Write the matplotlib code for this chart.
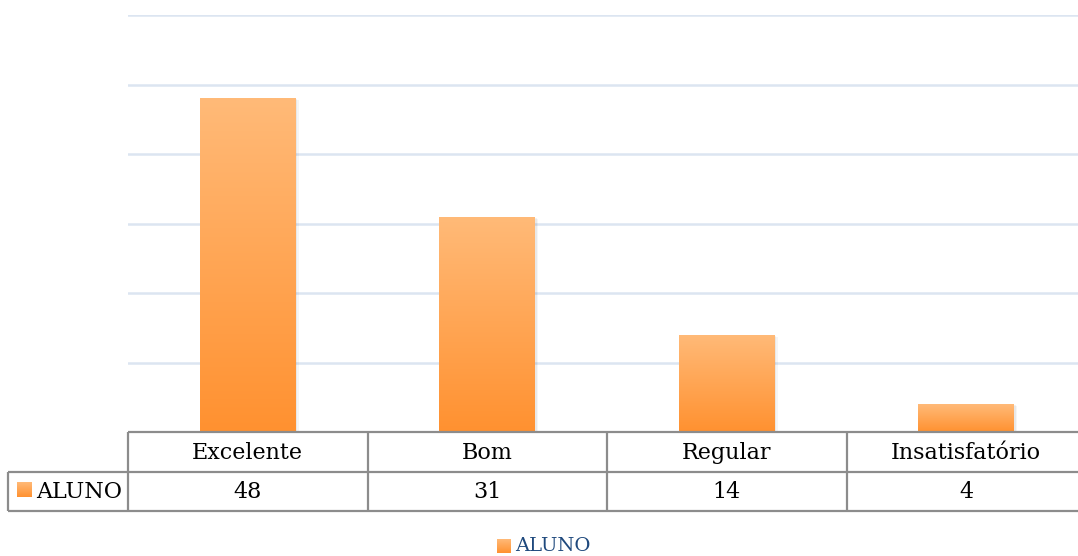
import numpy as np
import matplotlib
matplotlib.use("Agg")
import matplotlib.pyplot as plt
import matplotlib.patches as mpatches
import matplotlib.transforms as mtransforms
from matplotlib.colors import LinearSegmentedColormap

# ── Data ─────────────────────────────────────────────────────────────────────
categories = ["Excelente", "Bom", "Regular", "Insatisfatório"]
aluno = [48, 31, 14, 4]
series_name = "ALUNO"

W, H = 1078, 556
FONT = "DejaVu Serif"
GRID_C = "#DCE5F1"
BORDER_C = "#8C8C8C"
TOP_C = "#FFBA78"
BOT_C = "#FF9130"
LEGEND_C = "#1F497D"

grad = LinearSegmentedColormap.from_list("bar", [BOT_C, TOP_C])


def fy(y_px):
    """top-origin pixel row -> figure fraction"""
    return 1 - y_px / H


def fx(x_px):
    return x_px / W


fig = plt.figure(figsize=(W / 100, H / 100), dpi=100)
ax = fig.add_axes([fx(128), fy(432), fx(1086) - fx(128), fy(15) - fy(432)])
ax.set_xlim(-0.5, len(categories) - 0.5)
ax.set_ylim(0, 60)
for s in ax.spines.values():
    s.set_visible(False)
ax.set_xticks([])
ax.set_yticks(np.arange(10, 61, 10))
ax.tick_params(axis="y", length=0, labelleft=False)
ax.grid(axis="y", color=GRID_C, lw=1.8)
ax.set_axisbelow(True)

# ── Bars with vertical gradient ──────────────────────────────────────────────
xs = np.arange(len(categories))
bars = ax.bar(xs, aluno, width=0.4, color="none", zorder=3)
gimg = np.linspace(0, 1, 256).reshape(-1, 1)
for b in bars:
    x0, w, h = b.get_x(), b.get_width(), b.get_height()
    # soft shadow
    for k, a in [(1.0, 0.04), (0.5, 0.05)]:
        ax.add_patch(mpatches.Rectangle((x0 + 0.012 * k, -0.3 * k), w, h,
                                        color="black", alpha=a, lw=0, zorder=2))
    im = ax.imshow(gimg, cmap=grad, origin="lower", aspect="auto",
                   extent=(x0, x0 + w, 0, h), zorder=3)
    im.set_clip_path(b)
ax.set_xlim(-0.5, len(categories) - 0.5)
ax.set_ylim(0, 60)

# ── Data table below the plot ────────────────────────────────────────────────
bt = mtransforms.blended_transform_factory(ax.transData, fig.transFigure)
line_kw = dict(color=BORDER_C, lw=1.6, clip_on=False, solid_capstyle="butt")

for y in (432, 472, 511):
    x_start = 128 if y == 432 else 8
    fig.add_artist(plt.Line2D([fx(x_start), 1], [fy(y), fy(y)],
                              transform=fig.transFigure, **line_kw))
fig.add_artist(plt.Line2D([fx(8), fx(8)], [fy(472), fy(511)],
                          transform=fig.transFigure, **line_kw))
for xb in np.arange(-0.5, len(categories) - 0.5, 1.0):
    fig.add_artist(plt.Line2D([xb, xb], [fy(432), fy(511)], transform=bt, **line_kw))

for x, cat, v in zip(xs, categories, aluno):
    fig.text(x, fy(453), cat, transform=bt, ha="center", va="center",
             family=FONT, fontsize=16, color="black")
    fig.text(x, fy(492), str(v), transform=bt, ha="center", va="center",
             family=FONT, fontsize=16, color="black")


def swatch(x_px, y_px, size_px):
    sax = fig.add_axes([fx(x_px), fy(y_px + size_px), size_px / W, size_px / H])
    sax.imshow(gimg, cmap=grad, origin="lower", aspect="auto", extent=(0, 1, 0, 1))
    sax.set_axis_off()


swatch(17, 482, 15)
fig.text(fx(36), fy(492), series_name, ha="left", va="center",
         family=FONT, fontsize=16, color="black")

# ── Legend ───────────────────────────────────────────────────────────────────
swatch(497, 539, 14)
fig.text(fx(515), fy(546), series_name, ha="left", va="center",
         family=FONT, fontsize=14, color=LEGEND_C)

fig.savefig("out.png", dpi=100)
